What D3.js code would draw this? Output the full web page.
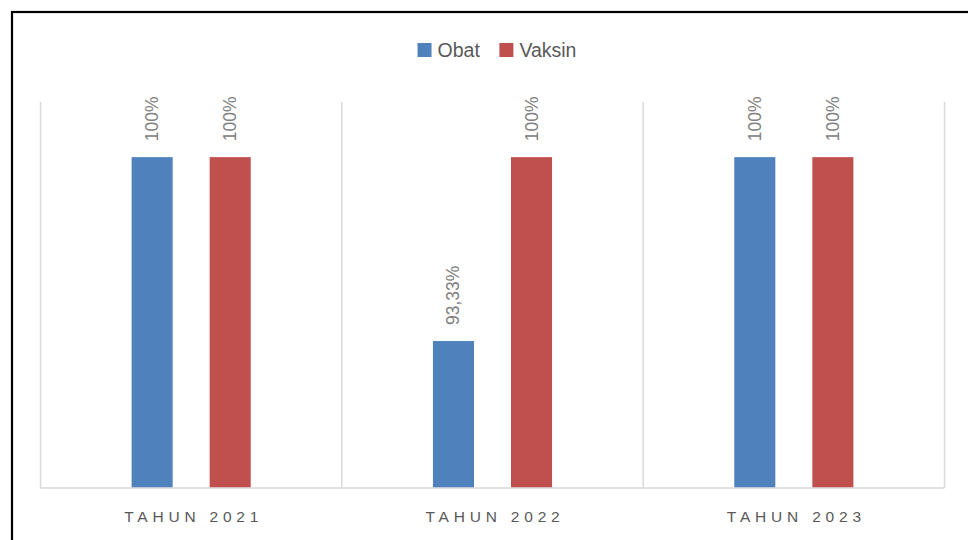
<!DOCTYPE html>
<html>
<head>
<meta charset="utf-8">
<script src="https://cdn.jsdelivr.net/npm/d3@7"></script>
<style>
  html, body { margin: 0; padding: 0; background: #ffffff; }
  svg { display: block; }
  text { font-family: "Liberation Sans", Arial, sans-serif; }
</style>
</head>
<body>
<svg id="chart" width="968" height="540"></svg>
<script>
const categories = ["TAHUN 2021", "TAHUN 2022", "TAHUN 2023"];
const seriesNames = ["Obat", "Vaksin"];
const obatValues = [100, 93.33, 100];
const vaksinValues = [100, 100, 100];
const valueLabels = {
  Obat: ["100%", "93,33%", "100%"],
  Vaksin: ["100%", "100%", "100%"]
};
const colors = { Obat: "#4f81bd", Vaksin: "#c0504d" };

const svg = d3.select("#chart");

// outer frame (left & top visible)
svg.append("rect")
  .attr("x", 12).attr("y", 12)
  .attr("width", 1000).attr("height", 600)
  .attr("fill", "#ffffff")
  .attr("stroke", "#000000").attr("stroke-width", 2.2);

const plot = { left: 40.5, right: 944.5, top: 102, bottom: 488 };

const x0 = d3.scaleBand().domain(categories)
  .range([plot.left, plot.right]).paddingInner(0).paddingOuter(0);
const x1 = d3.scaleBand().domain(seriesNames)
  .range([0, x0.bandwidth()]).paddingInner(0.474).paddingOuter(1.167);
const y = d3.scaleLinear().domain([88, 102]).range([plot.bottom, plot.top]);

// vertical category gridlines
const bounds = categories.map(c => x0(c)).concat([x0(categories[categories.length - 1]) + x0.bandwidth()]);
svg.append("g").selectAll("line").data(bounds).join("line")
  .attr("x1", d => d).attr("x2", d => d)
  .attr("y1", plot.top).attr("y2", plot.bottom)
  .attr("stroke", "#d9d9d9").attr("stroke-width", 1.5);

// baseline
svg.append("line")
  .attr("x1", plot.left).attr("x2", plot.right)
  .attr("y1", plot.bottom).attr("y2", plot.bottom)
  .attr("stroke", "#d9d9d9").attr("stroke-width", 1.5);

const rows = categories.map((c, i) => ({
  cat: c,
  values: [
    { s: "Obat", v: obatValues[i], label: valueLabels.Obat[i] },
    { s: "Vaksin", v: vaksinValues[i], label: valueLabels.Vaksin[i] }
  ]
}));

const groups = svg.append("g").selectAll("g").data(rows).join("g")
  .attr("transform", d => `translate(${x0(d.cat)},0)`);

groups.selectAll("rect").data(d => d.values).join("rect")
  .attr("x", d => x1(d.s))
  .attr("width", x1.bandwidth())
  .attr("y", d => y(d.v))
  .attr("height", d => plot.bottom - y(d.v) - 0.75)
  .attr("fill", d => colors[d.s]);

groups.selectAll("text").data(d => d.values).join("text")
  .attr("transform", d => `translate(${x1(d.s) + x1.bandwidth() / 2 + 6},${y(d.v) - 16}) rotate(-90)`)
  .attr("text-anchor", "start")
  .attr("font-size", 17.5)
  .attr("fill", "#808080")
  .text(d => d.label);

// category axis labels
svg.append("g").selectAll("text").data(categories).join("text")
  .attr("x", d => x0(d) + x0.bandwidth() / 2 + 2.5)
  .attr("y", 522)
  .attr("text-anchor", "middle")
  .attr("font-size", 15.5)
  .attr("letter-spacing", "4.8px")
  .attr("fill", "#595959")
  .text(d => d);

// legend
const legend = svg.append("g");
const items = legend.selectAll("g").data(seriesNames).join("g");
items.append("rect").attr("width", 14).attr("height", 14).attr("fill", d => colors[d]);
items.append("text").attr("x", 20).attr("y", 13.5)
  .attr("font-size", 19.5).attr("fill", "#595959").text(d => d);
let xoff = 0;
const gap = 19;
items.each(function () {
  const w = this.getBBox().width;
  d3.select(this).attr("transform", `translate(${xoff},0)`);
  xoff += w + gap;
});
const totalW = xoff - gap;
legend.attr("transform", `translate(${497 - totalW / 2},43)`);
</script>
</body>
</html>
